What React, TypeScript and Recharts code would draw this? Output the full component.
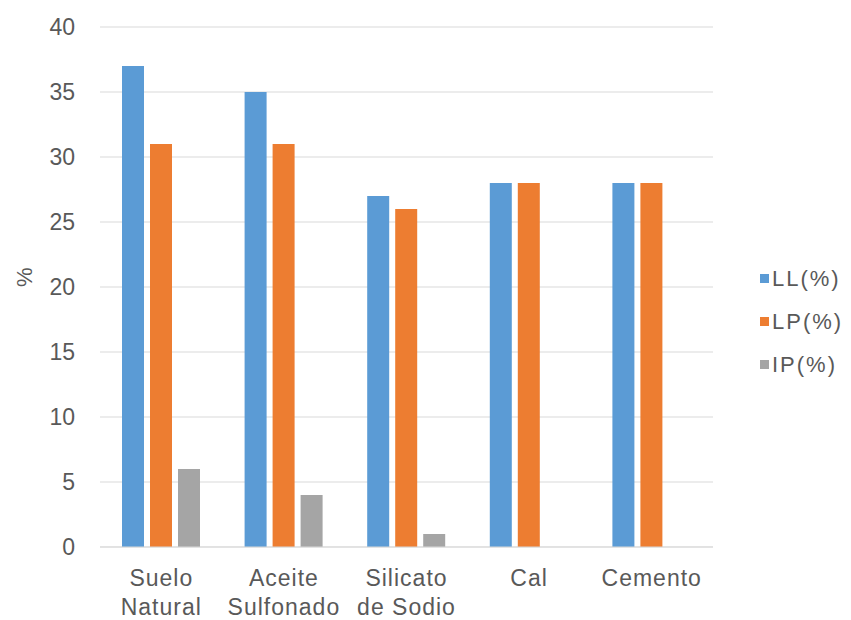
import React from 'react';
import { BarChart, Bar, XAxis, YAxis, CartesianGrid } from 'recharts';

const categories = ['Suelo\nNatural', 'Aceite\nSulfonado', 'Silicato\nde Sodio', 'Cal', 'Cemento'];
const llValues = [37, 35, 27, 28, 28];
const lpValues = [31, 31, 26, 28, 28];
const ipValues = [6, 4, 1, 0, 0];
const yTicks = [0, 5, 10, 15, 20, 25, 30, 35, 40];

const SERIES = [
  { key: 'll', name: 'LL(%)', color: '#5B9BD5' },
  { key: 'lp', name: 'LP(%)', color: '#ED7D31' },
  { key: 'ip', name: 'IP(%)', color: '#A5A5A5' },
];

const FONT = '"Liberation Sans", Arial, sans-serif';
const TEXT = '#595959';

const data = categories.map((c, i) => ({
  name: c,
  ll: llValues[i],
  lp: lpValues[i],
  ip: ipValues[i],
}));

// two-line category labels, split on the newline
const CategoryTick = ({ x, y, payload }: any) => {
  const lines = String(payload.value).split('\n');
  return (
    <text x={x} y={y} textAnchor="middle" fill={TEXT} fontSize={23} fontFamily={FONT} letterSpacing={1}>
      {lines.map((l, i) => (
        <tspan key={i} x={x} dy={i === 0 ? 31 : 29}>{l}</tspan>
      ))}
    </text>
  );
};

// legend kept outside the chart so it does not eat plot space
const LegendBox = () => (
  <div style={{ position: 'absolute', left: 760, top: 257, fontFamily: FONT, fontSize: 22, color: TEXT, letterSpacing: 2 }}>
    {SERIES.map(s => (
      <div key={s.key} style={{ display: 'flex', alignItems: 'center', height: 43 }}>
        <span style={{ width: 9, height: 9, background: s.color, marginRight: 3 }} />
        <span>{s.name}</span>
      </div>
    ))}
  </div>
);

export default function App() {
  return (
    <div style={{ position: 'absolute', left: 0, top: 0, width: 851, height: 620, background: '#fff' }}>
      <BarChart
        width={851}
        height={620}
        data={data}
        margin={{ top: 27, right: 138, bottom: 43, left: 0 }}
        barSize={22}
        barGap={6}
        barCategoryGap={22}
      >
        <CartesianGrid vertical={false} stroke="#D9D9D9" />
        <XAxis
          dataKey="name"
          height={30}
          tick={<CategoryTick />}
          tickLine={false}
          axisLine={{ stroke: '#D9D9D9' }}
          interval={0}
        />
        <YAxis
          width={100}
          domain={[0, 40]}
          ticks={yTicks}
          tickLine={false}
          axisLine={false}
          tickSize={0}
          tickMargin={25}
          tick={{ fill: TEXT, fontSize: 23, fontFamily: FONT }}
          label={{ value: '%', angle: -90, position: 'insideLeft', offset: 24, fill: TEXT, fontSize: 22, fontFamily: FONT }}
        />
        {SERIES.map(s => (
          <Bar key={s.key} dataKey={s.key} name={s.name} fill={s.color} isAnimationActive={false} />
        ))}
      </BarChart>
      <LegendBox />
    </div>
  );
}
